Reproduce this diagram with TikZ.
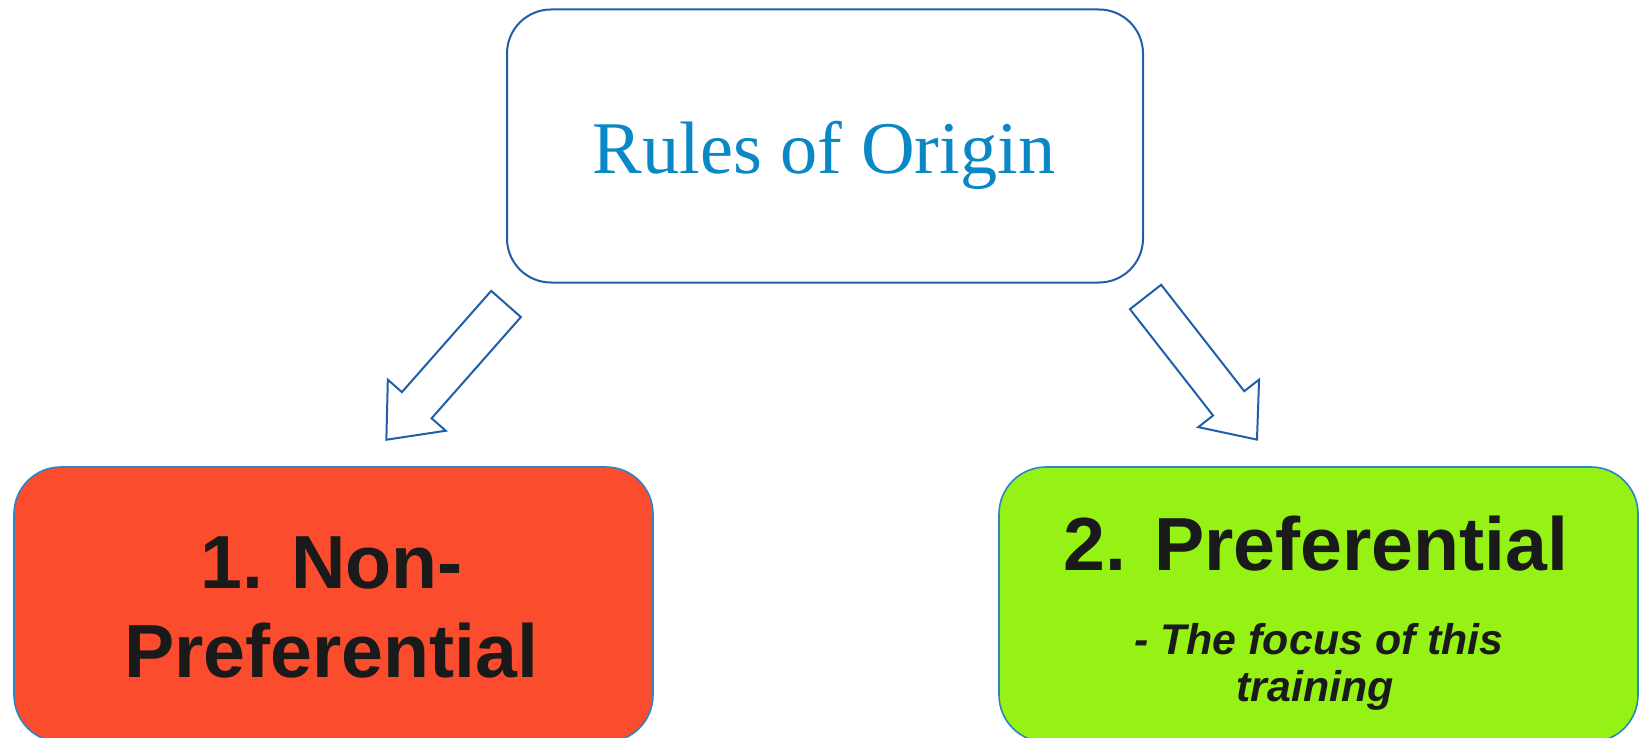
\documentclass[tikz,border=0pt]{standalone}
\usepackage{fontspec}
\setmainfont{Liberation Sans}
\newfontfamily\titlefont{Liberation Serif}
\usetikzlibrary{shapes.arrows,positioning}

\definecolor{lineblue}{HTML}{1F5FAA}
\definecolor{edgeblue}{HTML}{2A86C8}
\definecolor{titleblue}{HTML}{0A87C5}
\definecolor{nonprefred}{HTML}{FC4C2E}
\definecolor{prefgreen}{HTML}{95F214}
\definecolor{inkblack}{HTML}{1A1A1A}

\begin{document}
\begin{tikzpicture}[x=1pt, y=-1pt,
  topbox/.style={draw=lineblue, line width=2pt, fill=white, rounded corners=44pt,
    minimum width=636pt, minimum height=273pt, inner sep=0pt},
  kindbox/.style={draw=edgeblue, line width=1.6pt, rounded corners=47pt,
    minimum width=639pt, minimum height=275pt, inner sep=0pt},
  bigtext/.style={anchor=base, text=inkblack, inner sep=0pt,
    font=\fontsize{75.3}{89}\selectfont\bfseries},
  smalltext/.style={anchor=base, text=inkblack, inner sep=0pt,
    font=\fontsize{42.9}{48}\selectfont\bfseries\itshape},
  blockarrow/.style={single arrow, draw=lineblue, line width=2pt, fill=white,
    minimum height=181pt, inner xsep=0pt, inner ysep=18.8pt,
    single arrow head extend=18.8pt, single arrow tip angle=80}]
   \useasboundingbox (0,0) rectangle (1640,738);
   % boxes
   \node[topbox] (origin) at (825,146) {};
   \node[kindbox, fill=nonprefred] (nonpref) at (333.5,604.5) {};
   \node[kindbox, fill=prefgreen] (pref) at (1318.5,604.5) {};
   % texts
   \node[anchor=base, inner sep=0pt, text=titleblue,
     font=\titlefont\fontsize{74.3}{84}\selectfont] (title) at (824,174) {Rules of Origin};
   \node[bigtext] (nonprefA) at (332,588) {1. Non-};
   \node[bigtext] (nonprefB) at (331.5,677) {Preferential};
   \node[bigtext] (prefA) at (1316,570) {2. Preferential};
   \node[smalltext] (prefB) at (1319,654) {- The focus of this};
   \node[smalltext] (prefC) at (1315,701) {training};
   % arrows
   \node[blockarrow, rotate=228.6] (toleft) at (454,363) {};
   \node[blockarrow, rotate=-52] (toright) at (1194,359) {};
\end{tikzpicture}
\end{document}
